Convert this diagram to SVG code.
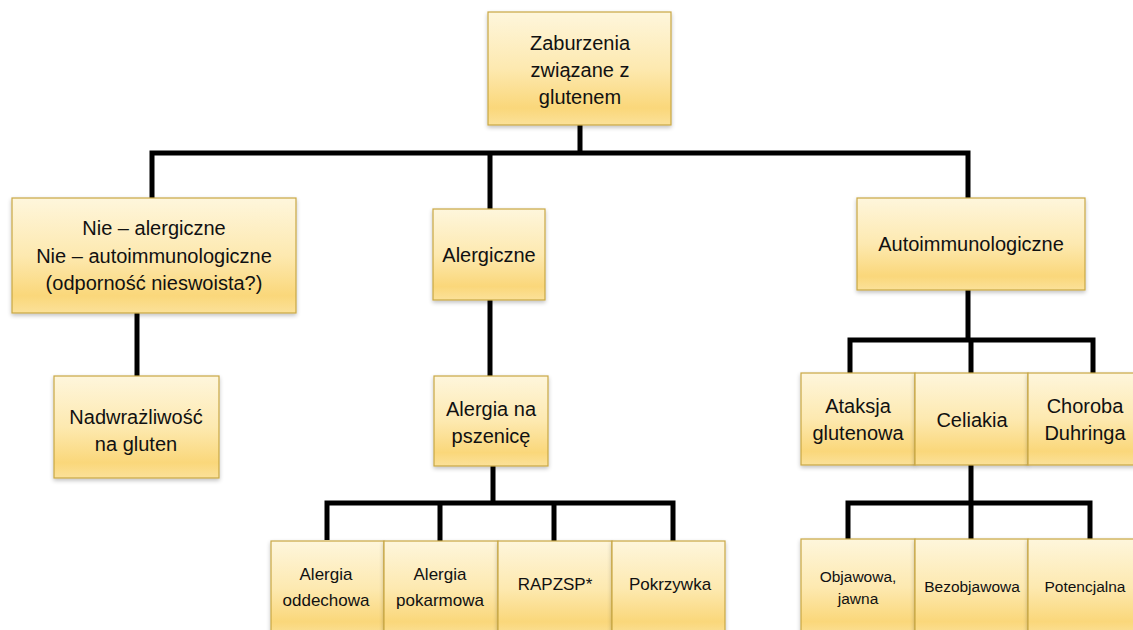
<svg xmlns="http://www.w3.org/2000/svg" width="1133" height="630" viewBox="0 0 1133 630">
<defs>
<linearGradient id="g" x1="0" y1="0" x2="0" y2="1">
<stop offset="0" stop-color="#fef6dc"/>
<stop offset="0.5" stop-color="#fde9b0"/>
<stop offset="0.85" stop-color="#fad77a"/>
<stop offset="1" stop-color="#fbe199"/>
</linearGradient>
<filter id="sh" x="-10%" y="-10%" width="120%" height="130%">
<feGaussianBlur in="SourceAlpha" stdDeviation="2"/>
<feOffset dx="0" dy="2" result="b"/>
<feComponentTransfer><feFuncA type="linear" slope="0.25"/></feComponentTransfer>
<feMerge><feMergeNode/><feMergeNode in="SourceGraphic"/></feMerge>
</filter>
</defs>
<style>
.box{fill:url(#g);stroke:#c9a744;stroke-width:1.2;filter:url(#sh)}
.t{font-family:"Liberation Sans",Arial,sans-serif;font-size:20px;fill:#111;text-anchor:middle}
.s{font-size:17px}
.xs{font-size:15.5px}
.c{fill:none;stroke:#000;stroke-width:5;stroke-linejoin:miter;stroke-linecap:butt}
</style>
<rect width="1133" height="630" fill="#fff"/>
<g id="connectors">
<path class="c" d="M580 125V153M152 200V153H968V198M490 153V209"/>
<path class="c" d="M137 313V376"/>
<path class="c" d="M490 300V376"/>
<path class="c" d="M493 466V503M327 540V503H673V541M440 503V541M554 503V541"/>
<path class="c" d="M968 290V340M850 374V340H1093V374M971 340V374"/>
<path class="c" d="M971 465V503M848 539V503H1090V539M971 503V539"/>
</g>
<g id="n-root"><rect class="box" x="488" y="12" width="183" height="113"/>
<text class="t" x="580" y="50">Zaburzenia</text><text class="t" x="580" y="77">związane z</text><text class="t" x="580" y="104">glutenem</text></g>
<g id="n-nie"><rect class="box" x="12" y="198" width="284" height="115"/>
<text class="t" x="154" y="235">Nie – alergiczne</text><text class="t" x="154" y="263">Nie – autoimmunologiczne</text><text class="t" x="154" y="290">(odporność nieswoista?)</text></g>
<g id="n-alergiczne"><rect class="box" x="433" y="209" width="112" height="91"/>
<text class="t" x="489" y="262">Alergiczne</text></g>
<g id="n-auto"><rect class="box" x="857" y="198" width="228" height="92"/>
<text class="t" x="971" y="251">Autoimmunologiczne</text></g>
<g id="n-nadwr"><rect class="box" x="54" y="376" width="165" height="102"/>
<text class="t" x="136" y="424">Nadwrażliwość</text><text class="t" x="136" y="451">na gluten</text></g>
<g id="n-pszen"><rect class="box" x="434" y="376" width="114" height="90"/>
<text class="t" x="491" y="416">Alergia na</text><text class="t" x="491" y="443">pszenicę</text></g>
<g id="n-ataksja"><rect class="box" x="801" y="373" width="114" height="92"/>
<text class="t" x="858" y="413">Ataksja</text><text class="t" x="858" y="440">glutenowa</text></g>
<g id="n-celiakia"><rect class="box" x="915" y="373" width="113" height="92"/>
<text class="t" x="972" y="427">Celiakia</text></g>
<g id="n-choroba"><rect class="box" x="1028" y="373" width="113" height="92"/>
<text class="t" x="1085" y="413">Choroba</text><text class="t" x="1085" y="440">Duhringa</text></g>
<g id="n-oddech"><rect class="box" x="271" y="541" width="113" height="95"/>
<text class="t s" x="326" y="580">Alergia</text><text class="t s" x="326" y="606">oddechowa</text></g>
<g id="n-pokarm"><rect class="box" x="384" y="541" width="114" height="95"/>
<text class="t s" x="440" y="580">Alergia</text><text class="t s" x="440" y="606">pokarmowa</text></g>
<g id="n-rapzsp"><rect class="box" x="498" y="541" width="114" height="95"/>
<text class="t s" x="555" y="590">RAPZSP*</text></g>
<g id="n-pokrz"><rect class="box" x="612" y="541" width="113" height="95"/>
<text class="t s" x="670" y="590">Pokrzywka</text></g>
<g id="n-objaw"><rect class="box" x="801" y="539" width="114" height="97"/>
<text class="t xs" x="858" y="582">Objawowa,</text><text class="t xs" x="858" y="604">jawna</text></g>
<g id="n-bezobj"><rect class="box" x="915" y="539" width="113" height="97"/>
<text class="t xs" x="972" y="592">Bezobjawowa</text></g>
<g id="n-poten"><rect class="box" x="1028" y="539" width="113" height="97"/>
<text class="t xs" x="1085" y="592">Potencjalna</text></g>
</svg>
